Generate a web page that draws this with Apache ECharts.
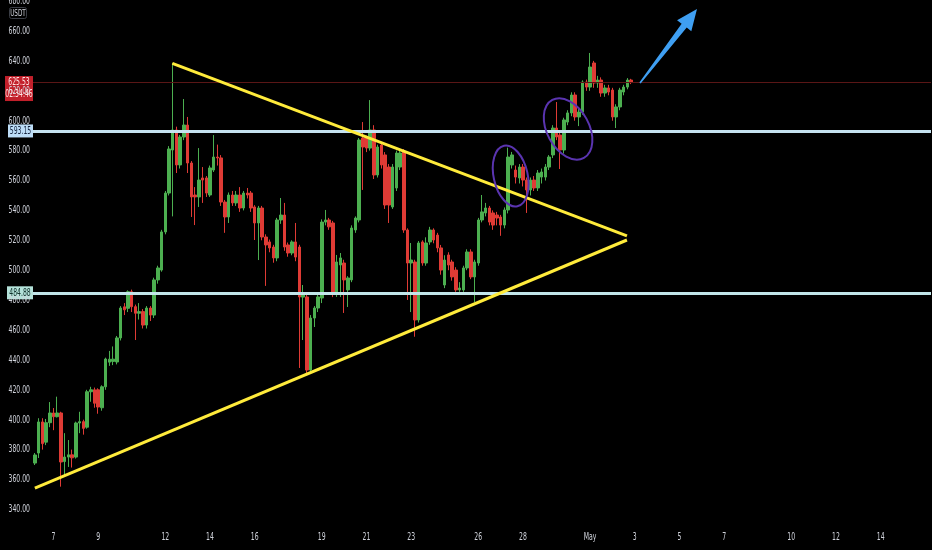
<!DOCTYPE html>
<html><head><meta charset="utf-8">
<script src="https://cdn.jsdelivr.net/npm/echarts@6/dist/echarts.min.js"></script>
<style>html,body{margin:0;padding:0;background:#000;}#c{width:932px;height:550px;}</style>
</head><body><div id="c"></div>
<script>
// ---- data ----
const startTimeUTC = Date.UTC(2021, 3, 6, 4);   // first 4h candle
const slotHours = 4;
const slotCount = 241;
// [open, close, low, high]
const ohlc = [
[371,376.4,369.7,377.7],[377.7,398.5,374.4,401],[398.5,384,380,401],[385,398,383,400.5],[398,404.5,395,411.8],
[404.5,402,393,407.8],[402,404.5,401.5,415.4],[404.5,371.7,355.2,405.3],[372,375,361.7,391],[375,376.5,368.4,386.4],
[376.5,374.5,368,380],[375,397.8,374,398.7],[397.8,398.7,391,405.3],[398.7,394.2,390,400],[395,418.7,394,420],
[418.7,420,412,422],[420,411,408,421.5],[420,408.5,404,421],[408,422,406,423],[422,440.6,420,441.5],
[438.5,440.5,436,446],[439,440.5,436.5,449],[438.6,454.7,437,456],[454.7,474.7,453,476],[475.5,473.5,470,478],
[474.5,485.6,472,486.5],[485.6,475.6,472,487],[475.6,471.2,453.3,477],[471.2,472.3,467,478],[472.3,463.3,461,474],
[463.3,474.7,461,476],[474.7,470,466,476],[470,493.5,468,495],[493.5,501.5,491,503],[500.1,525.6,499,527],
[525.6,551.6,524,553],[551.6,581.1,550,583],[580.4,593.8,536,638.6],[593.8,570.4,565,596],[570.4,589.1,568,590.5],
[589.1,597.1,587,614.5],[597.1,571.7,565,602.5],[571.7,549,535.6,573],[550.3,549,530.2,555.6],[549,560.3,542.3,581.7],
[561.7,560.3,545,569],[561.7,551.6,549,563],[550.3,568.4,549,570],[567,575.7,565.7,590.4],[575.7,575.1,570,584],
[575.1,545.6,543,577],[545.6,535.6,525,547],[535.6,550.3,531.6,552],[550.3,545,543,553],[545,550.3,543,553],
[550.3,541.6,539,555.6],[541.6,551.6,540,553],[551.6,550.3,548,555],[551.6,541.6,539,553],[542.3,531.6,520.2,543.5],
[531.6,541.6,506.8,543],[541.6,522.2,520,543],[522.2,516.9,489.5,524],[518.9,514.9,512,520.5],[515.5,508.2,505,517],
[508.2,533.6,506,535],[533.6,536.9,531,548.3],[536.9,515.5,513,545],[516.9,511.5,509,518.5],[511.5,518.9,510,520],
[518.9,508.8,506,531.6],[515.5,482.1,434.6,517],[482,484.8,453.3,490.1],[482.1,433.2,431.2,484],[433.2,468,431.2,470],
[468,474.7,462,476],[474.7,482.1,472,483.5],[481.4,532.2,478,534],[532.2,533.6,530,540.3],[533.6,529,527,535],
[531.6,484.8,482,533],[484.8,505.5,482.1,510.2],[503.5,508.2,482.1,511.5],[504.8,493.5,471.4,507],[486.8,494.8,475.4,496],
[493.5,528.2,492,530],[526.9,534.9,525,536],[533.6,587.1,532,588.4],[588.4,582.4,553.7,599.1],[588.4,581.7,579,590],
[581.7,593.8,580,613.8],[593.8,563.7,561,597],[563.7,582.4,562,584],[583.7,570.4,568,585],[577.1,543.6,541,579],
[569,543.6,531.6,571],[542.3,569,541,571],[555,578.4,553,580],[569,578.4,567,580],[579.1,526.9,525,581],
[526.9,504.8,480.1,528],[504.8,506.8,472,518.2],[505.5,466.7,455.5,507],[466.7,518.2,465,519.5],[518.9,504.8,503,520],
[504.8,518.2,503,522],[518.9,526.9,517,529],[526.9,520.2,518,528],[523.5,514.9,512,525],[514.9,500.1,497,516.9],
[490.1,506.8,488,510],[510.2,503.5,500,512],[505.5,495.5,493,507],[500.1,486.8,485.5,502],[486.8,488.1,485.5,492],
[486.8,501.5,485.5,503],[501.5,512.2,500,514],[512.2,495.5,494,514],[495.5,505.5,478.7,507],[504.8,533.6,503,535],
[533.6,539,532,550.3],[538.3,541.6,536,545],[541.6,532.2,530,543],[538.3,530.2,527,540],[536.9,534.9,530,539],
[535.6,530.2,523,537],[530.2,540.3,528,542],[540.3,575.7,538,582],[570.4,577.1,568,579.1],[567,562.3,558,570],
[561.7,569,558,571],[569,560.3,556,571],[560.3,553.7,538.3,562],[553.7,560.3,550,562],[560.3,555,553,563],
[555,565,553,567],[562.3,565.7,558,568],[562.3,569,560,571],[569,575.7,567,577],[577.1,595.1,575,597],
[595.1,589.1,587,612.5],[590.4,580.4,567.7,592],[580.4,600.5,578,602],[599.1,605.2,597,607],[605.2,617.2,603,619],
[617.2,602.5,600,619],[602.5,605.8,596.4,608],[605.8,625.9,604,627],[625.9,622.5,620,627.5],[622.5,635.9,620,645.3],
[638.6,625.2,622,640],[625.2,627.2,622,630],[627.2,618.5,616,629],[618.5,621.9,616,624],[621.9,619.2,617,624],
[620.5,602.5,600,622],[602.5,609.2,595.1,611],[609.2,620.5,607,622],[619.2,622.5,617,624],[622.5,627.2,621,628.5],
[627.2,625.53,624.5,628]
];
const tickDays   = ['04-07','04-09','04-12','04-14','04-16','04-19','04-21','04-23','04-26','04-28','05-01','05-03','05-05','05-07','05-10','05-12','05-14'];
const tickLabels = ['7','9','12','14','16','19','21','23','26','28','May','3','5','7','10','12','14'];
const yTicks = [340,360,380,400,420,440,460,480,500,520,540,560,580,600,620,640,660,680];
const levelUpper = 593.15;
const levelLower = 484.88;
const lastPrice = 625.53;
const countdown = '02:34:46';
const quoteUnit = 'USDT';
// annotation anchors in [slot index, price]
const trendUpper = [[36.9, 638.4], [158.9, 522.9]];
const trendLower = [[0.0, 354.3], [158.9, 520.2]];
const circleA = {center: [127.7, 563.0], rx: 17, ry: 31, rot: 0.22};
const circleB = {center: [143.1, 594.5], rx: 21, ry: 33, rot: 0.5};
const arrowPts = [[162.4, 625.2], [177.7, 674.7]];

// ---- build ----
const pad = n => (n < 10 ? '0' : '') + n;
const categories = [];
for (let i = 0; i < slotCount; i++) {
  const d = new Date(startTimeUTC + i * slotHours * 3600e3);
  categories.push(pad(d.getUTCMonth() + 1) + '-' + pad(d.getUTCDate()) + ' ' + pad(d.getUTCHours()) + ':00');
}

const FONT = "'DejaVu Sans Condensed','Liberation Sans Narrow',sans-serif";
const TXT = '#d1d4dc';
const SX = 0.62; // horizontal squeeze of the narrow price-scale font
const chart = echarts.init(document.getElementById('c'), null, {renderer: 'canvas'});

chart.setOption({
  backgroundColor: '#000000',
  animation: false,
  grid: {left: 33, right: 1, top: 0, bottom: 10.7, containLabel: false, outerBoundsMode: 'none'},
  xAxis: [{
    type: 'category', data: categories, boundaryGap: true,
    axisLine: {show: false}, axisTick: {show: false}, splitLine: {show: false}, axisLabel: {show: false}
  }, {
    type: 'value', min: -0.5, max: slotCount - 0.5, show: false
  }],
  yAxis: {
    type: 'value', position: 'left', min: 320, max: 680.74, interval: 20,
    axisLine: {show: false}, axisTick: {show: false}, splitLine: {show: false}, axisLabel: {show: false}
  },
  series: [{
    type: 'candlestick', xAxisIndex: 0, yAxisIndex: 0,
    data: ohlc, barWidth: 3,
    itemStyle: {color: '#4caf50', color0: '#df3b35', borderColor: '#4caf50', borderColor0: '#df3b35', borderWidth: 1},
    markLine: {
      silent: true, symbol: 'none', animation: false, label: {show: false},
      data: [
        {yAxis: lastPrice, lineStyle: {color: '#5a1616', width: 1, type: 'solid'}},
        {yAxis: levelUpper, lineStyle: {color: '#c6e3f1', width: 3, type: 'solid'}},
        {yAxis: levelLower, lineStyle: {color: '#c2e6ea', width: 3, type: 'solid'}}
      ]
    },
    z: 2
  }, {
    type: 'line', xAxisIndex: 1, yAxisIndex: 0, data: trendUpper, symbol: 'none',
    lineStyle: {color: '#ffeb3b', width: 3}, z: 5, silent: true
  }, {
    type: 'line', xAxisIndex: 1, yAxisIndex: 0, data: trendLower, symbol: 'none',
    lineStyle: {color: '#ffeb3b', width: 3}, z: 5, silent: true
  }]
});

function px(p) { return chart.convertToPixel({xAxisIndex: 1, yAxisIndex: 0}, p); }
function py(v) { return chart.convertToPixel({yAxisIndex: 0}, v); }
function ellipseEl(e) {
  const c = px(e.center);
  return {type: 'ellipse', x: c[0], y: c[1], rotation: e.rot, shape: {cx: 0, cy: 0, rx: e.rx, ry: e.ry},
          style: {fill: 'none', stroke: '#5a34b0', lineWidth: 2}, z: 10, silent: true};
}
function arrowEl() {
  const a = px(arrowPts[0]), b = px(arrowPts[1]);
  const dx = b[0] - a[0], dy = b[1] - a[1], L = Math.hypot(dx, dy);
  const ux = dx / L, uy = dy / L, nx = -uy, ny = ux;
  const hl = 21, hw = 9, sw0 = 0.8, sw1 = 3.2;
  const bx = b[0] - ux * hl, by = b[1] - uy * hl;
  const pts = [
    [a[0] + nx * sw0, a[1] + ny * sw0], [bx + nx * sw1, by + ny * sw1], [bx + nx * hw, by + ny * hw],
    [b[0], b[1]], [bx - nx * hw, by - ny * hw], [bx - nx * sw1, by - ny * sw1], [a[0] - nx * sw0, a[1] - ny * sw0]
  ];
  return {type: 'polygon', shape: {points: pts}, style: {fill: '#3f9ff2'}, z: 10, silent: true};
}
function txt(x, y, s, color, align, z) {
  return {type: 'text', x: x, y: y, scaleX: SX, z: z || 20, silent: true,
          style: {text: s, fill: color, font: '11px ' + FONT, align: align || 'center', verticalAlign: 'middle'}};
}
function badge(v, lines, bg, fg, x0) {
  const y = py(v);
  const h = 12 * lines.length + 1;
  const els = [{type: 'rect', z: 19, silent: true, shape: {x: x0, y: y - 6.5, width: 33 - x0, height: h},
                style: {fill: bg}}];
  lines.forEach((s, k) => els.push(txt((x0 + 33) / 2, y + k * 12, s, fg, 'center', 21)));
  return els;
}

const g = [ellipseEl(circleA), ellipseEl(circleB), arrowEl()];
yTicks.forEach(v => g.push(txt(30, py(v), v.toFixed(2), TXT, 'right')));
categories.forEach(c => {
  const k = tickDays.indexOf(c.slice(0, 5));
  if (k >= 0 && c.slice(6) === '00:00') {
    g.push(txt(chart.convertToPixel({xAxisIndex: 0}, c), 537, tickLabels[k], TXT, 'center'));
  }
});
g.push(...badge(lastPrice, [lastPrice.toFixed(2), countdown], '#c2202b', '#ffe4e4', 5));
g.push(...badge(levelUpper, [levelUpper.toFixed(2)], '#bcdcf6', '#14223c', 8));
g.push(...badge(levelLower, [levelLower.toFixed(2)], '#b4e2da', '#10302b', 7));
g.push({type: 'rect', z: 19, silent: true, shape: {x: 9.5, y: 7.5, width: 17, height: 11, r: 2},
        style: {fill: '#000', stroke: '#3a3d45', lineWidth: 1}});
g.push({type: 'text', x: 18, y: 13.5, scaleX: 0.7, z: 21, silent: true,
        style: {text: quoteUnit, fill: TXT, font: '9px ' + FONT, align: 'center', verticalAlign: 'middle'}});
chart.setOption({graphic: g});
</script></body></html>
